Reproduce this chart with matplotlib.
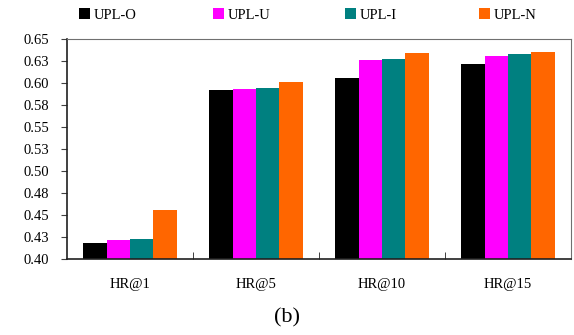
import numpy as np
import matplotlib
matplotlib.use('Agg')
import matplotlib.pyplot as plt

# --- data ---
groups = ["HR@1", "HR@5", "HR@10", "HR@15"]
series = ["UPL-O", "UPL-U", "UPL-I", "UPL-N"]
upl_o = [0.418, 0.592, 0.606, 0.622]
upl_u = [0.422, 0.593, 0.626, 0.631]
upl_i = [0.423, 0.594, 0.627, 0.633]
upl_n = [0.456, 0.601, 0.634, 0.635]
yticks = [0.40, 0.425, 0.45, 0.475, 0.50, 0.525, 0.55, 0.575, 0.60, 0.625, 0.65]
ytick_labels = ["0.40", "0.43", "0.45", "0.48", "0.50", "0.53", "0.55",
                "0.58", "0.60", "0.63", "0.65"]

colors = ["#000000", "#FF00FF", "#008080", "#FF6600"]

plt.rcParams['font.family'] = ['Liberation Serif', 'DejaVu Serif']

fig = plt.figure(figsize=(5.74, 3.35), dpi=100)
ax = fig.add_axes([67/574, 1 - 259/335, 504/574, 220/335])

x = np.arange(len(groups))
w = 0.185
bars = []
for i, (vals, name) in enumerate(zip([upl_o, upl_u, upl_i, upl_n], series)):
    b = ax.bar(x + (i - 1.5) * w, vals, width=w, color=colors[i], label=name,
               linewidth=0)
    bars.append(b)

ax.set_xlim(-0.5, len(groups) - 0.5)
ax.set_ylim(0.40, 0.65)
ax.set_yticks(yticks)
ax.set_yticklabels(ytick_labels, fontsize=10.5)
ax.set_xticks(x)
ax.set_xticklabels(groups, fontsize=10.5)
ax.tick_params(axis='x', length=0, pad=14)
ax.tick_params(axis='y', direction='out', length=4, pad=9, color='#404040')
# boundary ticks between groups, pointing inward
ax.set_xticks(np.arange(0.5, len(groups) - 1), minor=True)
ax.tick_params(axis='x', which='minor', direction='in', length=5, color='#202020')

for s in ['top', 'right']:
    ax.spines[s].set_color('#707070')
for s in ['left', 'bottom']:
    ax.spines[s].set_color('#202020')
    ax.spines[s].set_linewidth(1.2)

# legend entries spaced evenly like the original
leg_x = [79, 213, 345, 479]
for b, name, lx in zip(bars, series, leg_x):
    leg = fig.legend([b], [name], loc='center left',
                     bbox_to_anchor=(lx/574, 1 - 15/335), frameon=False,
                     fontsize=10.5, handlelength=0.75, handleheight=0.75,
                     handletextpad=0.25, borderpad=0, borderaxespad=0)

fig.text(0.5, 1 - 318/335, "(b)", ha='center', va='center', fontsize=16)

fig.savefig('out.png', dpi=100)
